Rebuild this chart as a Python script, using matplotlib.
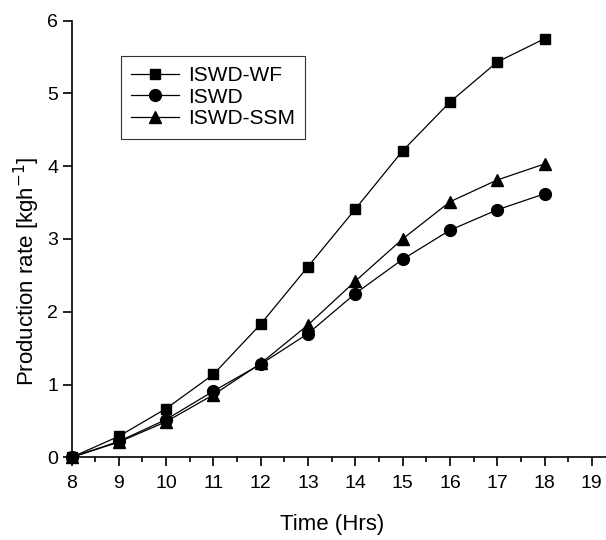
import matplotlib
matplotlib.use("Agg")
import matplotlib.pyplot as plt
from matplotlib.ticker import MultipleLocator

plt.rcParams['font.family'] = ['Liberation Sans', 'DejaVu Sans']

hours = [8, 9, 10, 11, 12, 13, 14, 15, 16, 17, 18]
iswd_wf = [0.0, 0.29, 0.67, 1.14, 1.83, 2.62, 3.41, 4.21, 4.88, 5.43, 5.75]
iswd = [0.0, 0.22, 0.52, 0.91, 1.28, 1.70, 2.25, 2.72, 3.12, 3.40, 3.62]
iswd_ssm = [0.0, 0.21, 0.49, 0.86, 1.29, 1.82, 2.42, 3.00, 3.51, 3.81, 4.03]
labels = ['ISWD-WF', 'ISWD', 'ISWD-SSM']
xticks = list(range(8, 20))
yticks = list(range(0, 7))

fig = plt.figure(figsize=(6.06, 5.40), dpi=100)
ax = fig.add_axes([0.118, 0.153, 0.882, 0.809])

ax.plot(hours, iswd_wf, color='black', lw=0.9, marker='s', ms=7.5, label=labels[0], clip_on=False)
ax.plot(hours, iswd, color='black', lw=0.9, marker='o', ms=8.5, label=labels[1], clip_on=False)
ax.plot(hours, iswd_ssm, color='black', lw=0.9, marker='^', ms=9, label=labels[2], clip_on=False)

ax.set_xlim(8, 19.3)
ax.set_ylim(0, 6)
ax.set_xticks(xticks)
ax.set_yticks(yticks)
ax.xaxis.set_minor_locator(MultipleLocator(0.5))
for s in ['top', 'right']:
    ax.spines[s].set_visible(False)
for s in ['left', 'bottom']:
    ax.spines[s].set_linewidth(1.2)
ax.tick_params(axis='both', which='major', direction='out', length=6.5, width=1.2, labelsize=14)
ax.tick_params(axis='x', which='major', pad=6)
ax.tick_params(axis='y', which='major', pad=3)
ax.tick_params(axis='x', which='minor', direction='out', length=3.5, width=1.2)
ax.tick_params(axis='y', which='minor', left=False)

ax.set_xlabel('Time (Hrs)', fontsize=16, labelpad=16)
ax.set_ylabel('Production rate [kgh$^{-1}$]', fontsize=16, labelpad=4)
ax.xaxis.label.set_x(0.487)
ax.yaxis.label.set_y(0.4256)

leg = ax.legend(loc='upper left', bbox_to_anchor=(120.7/606, 1-55.7/540), bbox_transform=fig.transFigure,
                borderaxespad=0, fontsize=15, frameon=True, fancybox=False, edgecolor='black',
                handlelength=2.3, labelspacing=0.12, handletextpad=0.42, borderpad=0.5)
leg.get_frame().set_linewidth(0.8)

fig.savefig('out.png', dpi=100)
